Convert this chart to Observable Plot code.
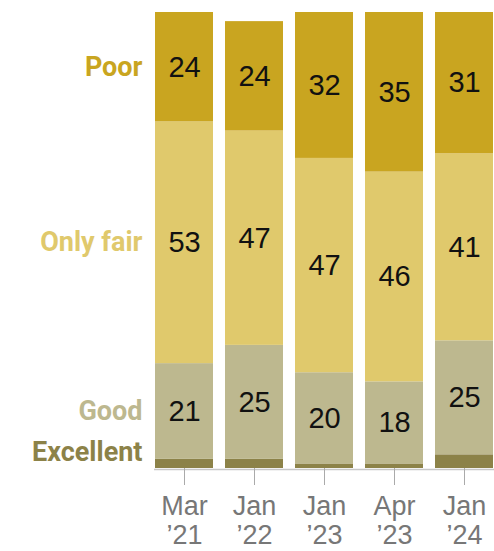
<!DOCTYPE html>
<html>
<head>
<meta charset="utf-8">
<script src="https://cdn.jsdelivr.net/npm/d3@7"></script>
<script src="https://cdn.jsdelivr.net/npm/@observablehq/plot@0.6"></script>
<style>
  html, body { margin: 0; padding: 0; background: #fff; }
  #chart { width: 494px; height: 551px; overflow: hidden; }
</style>
</head>
<body>
<div id="chart"></div>
<script>
const periods = ["Mar '21", "Jan '22", "Jan '23", "Apr '23", "Jan '24"];
const tickLabels = ["Mar\n\u201921", "Jan\n\u201922", "Jan\n\u201923", "Apr\n\u201923", "Jan\n\u201924"];
const ratings = ["Excellent", "Good", "Only fair", "Poor"];
const excellent = [2, 2, 1, 1, 3];
const good = [21, 25, 20, 18, 25];
const onlyFair = [53, 47, 47, 46, 41];
const poor = [24, 24, 32, 35, 31];
const colors = ["#8C8248", "#BDB88F", "#E0C96C", "#C9A520"];

const series = [excellent, good, onlyFair, poor];
const rows = [];
ratings.forEach((r, i) => periods.forEach((p, j) => rows.push({period: p, rating: r, value: series[i][j]})));

// row labels positioned at the first column's segment midpoints
let acc = 0;
const rowLabels = ratings.map((r, i) => {
  const v = series[i][0];
  const mid = acc + v / 2;
  acc += v;
  return {rating: r, y: mid};
});

const labelStyle = {
  y: "y", text: "rating", frameAnchor: "left", textAnchor: "end", dx: -12,
  fill: "rating", fontSize: 27, fontWeight: "bold",
  fontFamily: "Roboto, sans-serif"
};

const chart = Plot.plot({
  width: 494,
  height: 551,
  marginLeft: 154,
  marginRight: 0,
  marginTop: 12,
  marginBottom: 83,
  style: {fontFamily: "'Liberation Sans', Arial, sans-serif", background: "#fff"},
  x: {domain: periods, paddingInner: 0.177, paddingOuter: 0, label: null},
  y: {domain: [0, 100], axis: null},
  color: {domain: ratings, range: colors},
  marks: [
    Plot.barY(rows, {x: "period", y: "value", fill: "rating", order: ratings}),
    Plot.text(rows, Plot.stackY({
      x: "period", y: "value", z: "rating", order: ratings,
      text: d => d.rating === "Excellent" ? "" : String(d.value),
      fill: "#111", fontSize: 29
    })),
    Plot.text(rowLabels.filter(d => d.rating !== "Excellent"), labelStyle),
    Plot.text(rowLabels.filter(d => d.rating === "Excellent"), {...labelStyle, dy: -12}),
    Plot.ruleY([0], {stroke: "#c8c8c8", strokeWidth: 1.5, dy: 1}),
    Plot.axisX({
      tickFormat: (d) => tickLabels[periods.indexOf(d)],
      tickSize: 17, tickPadding: 8, fontSize: 27, stroke: "#aaa",
      color: "#777", lineHeight: 1.1, label: null
    })
  ]
});
document.getElementById("chart").appendChild(chart);
</script>
</body>
</html>
